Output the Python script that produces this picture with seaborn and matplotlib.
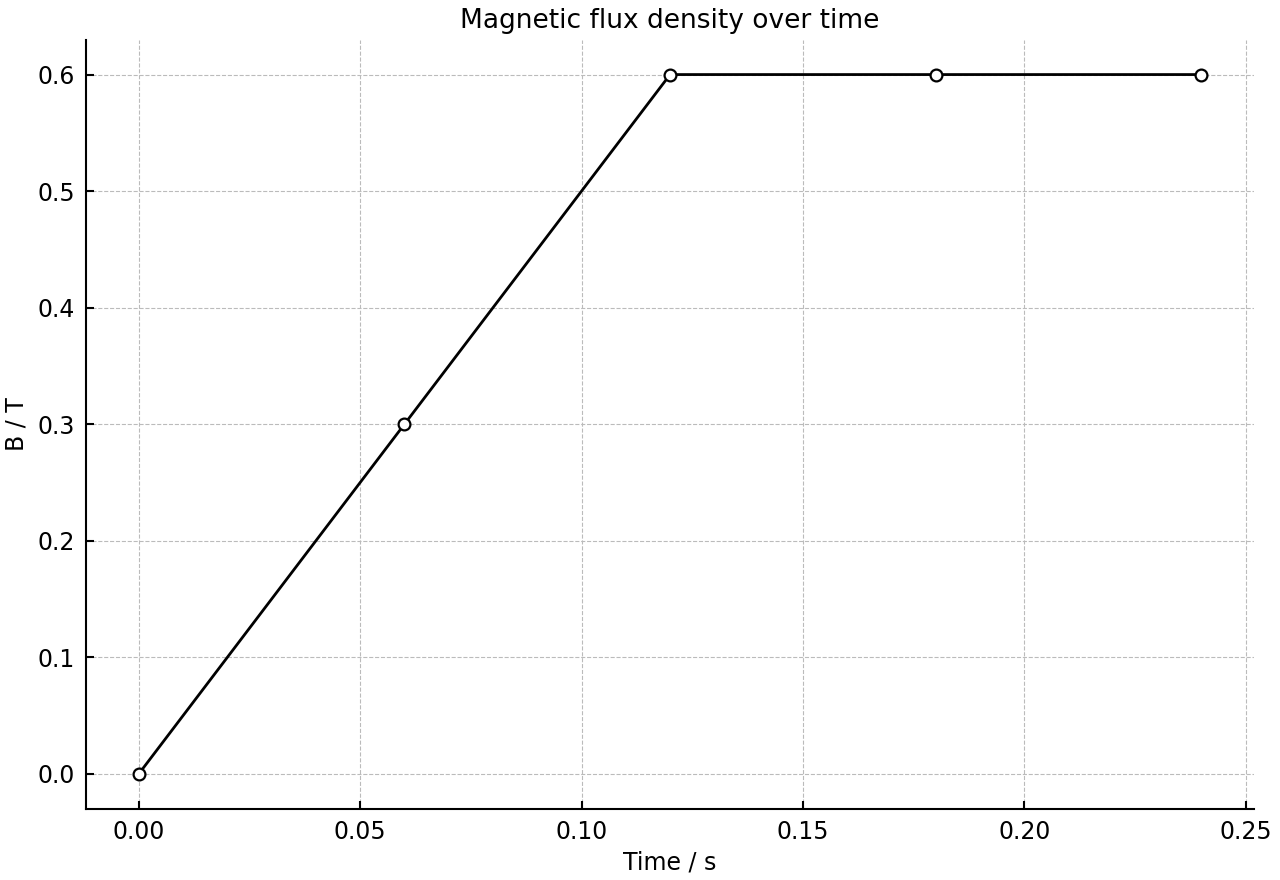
import matplotlib
matplotlib.use("Agg")
import matplotlib.pyplot as plt
import seaborn as sns
import pandas as pd

time_s = [0.00, 0.06, 0.12, 0.18, 0.24]
flux_T = [0.0, 0.3, 0.6, 0.6, 0.6]

sns.set_style("ticks")
plt.rcParams['font.family'] = ['DejaVu Sans']
plt.rcParams['text.color'] = 'black'
plt.rcParams['axes.labelcolor'] = 'black'
plt.rcParams['xtick.color'] = 'black'
plt.rcParams['ytick.color'] = 'black'
plt.rcParams['axes.edgecolor'] = 'black'

df = pd.DataFrame({"t": time_s, "B": flux_T})
fig, ax = plt.subplots(figsize=(12.8, 8.8), dpi=100)
sns.lineplot(data=df, x="t", y="B", ax=ax, color="black", linewidth=2,
             marker="o", markersize=8.5, markerfacecolor="white",
             markeredgecolor="black", markeredgewidth=1.6)
ax.grid(True, linestyle="--", color="#bbbbbb", linewidth=0.8)
ax.set_axisbelow(True)
sns.despine(ax=ax)
for s in ["left", "bottom"]:
    ax.spines[s].set_linewidth(1.5)
ax.tick_params(direction="in", labelsize=17, width=1.5, length=6, pad=8,
               colors="black")
ax.set_xticks([0.00, 0.05, 0.10, 0.15, 0.20, 0.25])
ax.set_xticklabels(["0.00", "0.05", "0.10", "0.15", "0.20", "0.25"])
ax.set_xlabel("Time / s", fontsize=17, labelpad=5)
ax.set_ylabel("B / T", fontsize=17, labelpad=6)
ax.set_title("Magnetic flux density over time", fontsize=19, pad=8)
fig.subplots_adjust(left=0.067, right=0.98, top=0.955, bottom=0.081)
fig.savefig("out.png", dpi=100)
